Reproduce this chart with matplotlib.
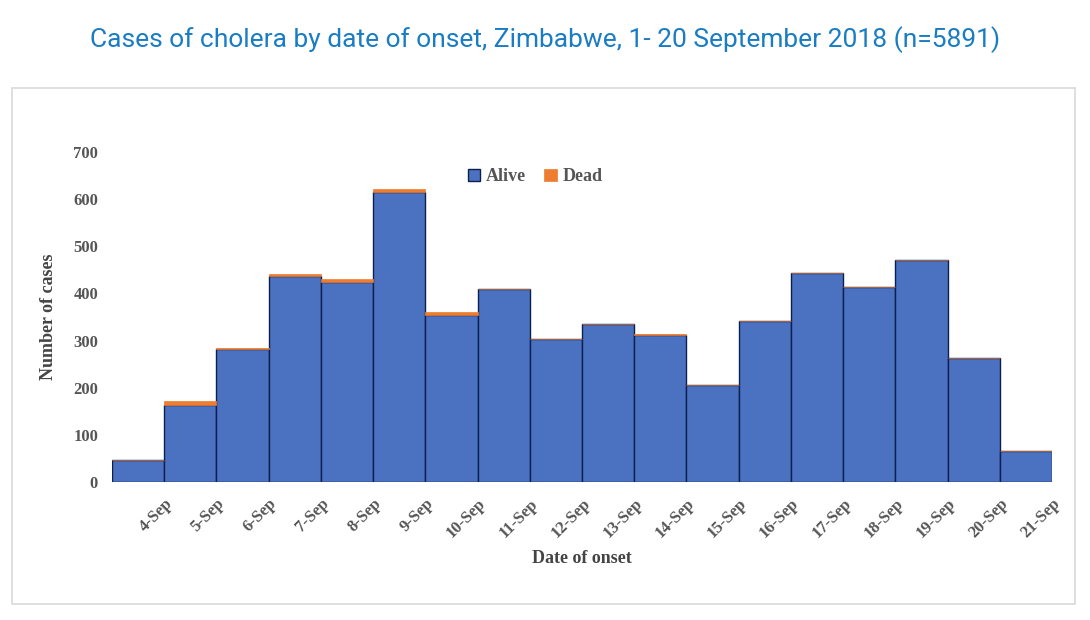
import matplotlib.pyplot as plt
import numpy as np
from matplotlib.patches import Rectangle

dates = ["4-Sep", "5-Sep", "6-Sep", "7-Sep", "8-Sep", "9-Sep", "10-Sep", "11-Sep", "12-Sep",
         "13-Sep", "14-Sep", "15-Sep", "16-Sep", "17-Sep", "18-Sep", "19-Sep", "20-Sep", "21-Sep"]
alive = [47, 163, 283, 437, 424, 616, 354, 409, 303, 335, 312, 206, 342, 443, 413, 470, 262, 66]
dead = [0, 8, 1, 5, 6, 5, 6, 1, 0, 1, 2, 0, 0, 0, 0, 0, 0, 0]

fig = plt.figure(figsize=(10.9, 6.2), dpi=100)
fig.patches.append(Rectangle((12 / 1090, 1 - 604 / 620), 1063 / 1090, 516 / 620,
                             transform=fig.transFigure, fill=False,
                             edgecolor="#d9d9d9", linewidth=1.2))
fig.text(0.5, 1 - 40 / 620, "Cases of cholera by date of onset, Zimbabwe, 1- 20 September 2018 (n=5891)",
         ha="center", va="center", fontsize=19, color="#1a7dc4", family="Roboto",
         fontstretch="condensed")

ax = fig.add_axes([112 / 1090, 1 - 482 / 620, 940 / 1090, 330 / 620])
x = np.arange(len(dates))
ax.bar(x, alive, width=1.0, color="#4a72c0", edgecolor="#0d1f4f", linewidth=1.0,
       align="edge", label="Alive")
ax.bar(x, dead, width=1.0, bottom=alive, color="#ed7d31", edgecolor="#ed7d31",
       linewidth=0.5, align="edge", label="Dead")

ax.set_xlim(0, len(dates))
ax.set_ylim(0, 700)
ax.set_yticks(range(0, 701, 100))
ax.set_xticks(x + 1)
ax.set_xticklabels(dates, rotation=45, ha="right", rotation_mode="anchor")
for spine in ax.spines.values():
    spine.set_visible(False)
ax.tick_params(length=0, labelsize=12, colors="#555555", pad=10)
for lbl in ax.get_xticklabels() + ax.get_yticklabels():
    lbl.set_family("Liberation Serif")
    lbl.set_fontweight("bold")
ax.set_ylabel("Number of cases", family="Liberation Serif", fontweight="bold",
              fontsize=13, color="#444444", labelpad=12)
ax.set_xlabel("Date of onset", family="Liberation Serif", fontweight="bold",
              fontsize=13, color="#444444", labelpad=6)
leg = ax.legend(loc="upper center", bbox_to_anchor=(0.45, 1.0), ncol=2, frameon=False,
                handlelength=0.7, handleheight=0.7, columnspacing=1.0, handletextpad=0.3,
                prop={"family": "Liberation Serif", "weight": "bold", "size": 13})
for t in leg.get_texts():
    t.set_color("#555555")

fig.savefig("out.png", dpi=100)
